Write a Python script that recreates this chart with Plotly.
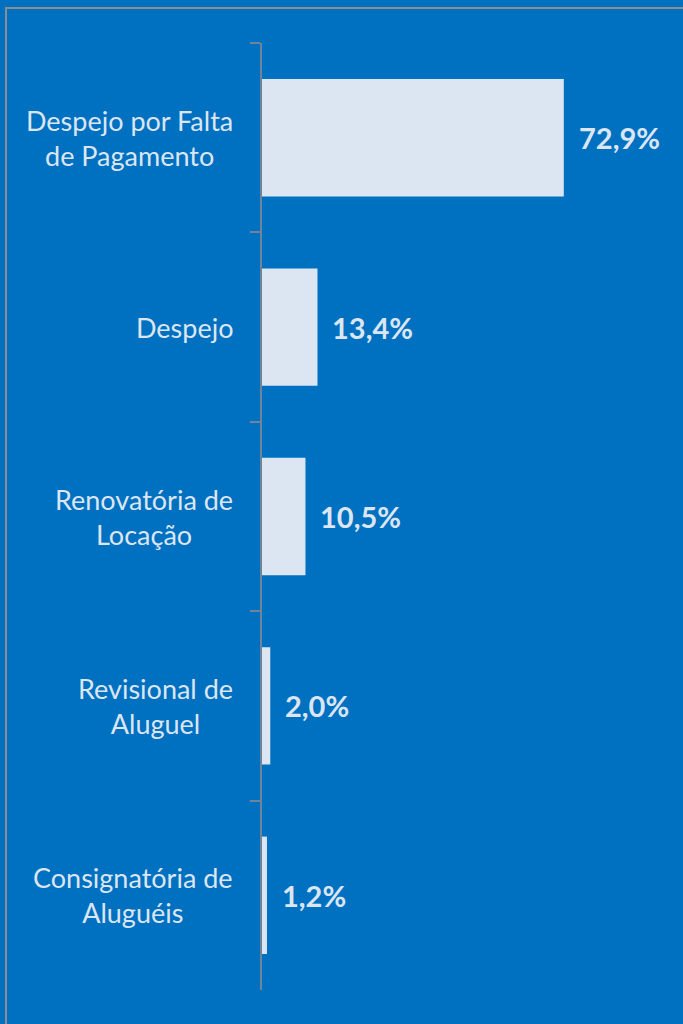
import plotly.graph_objects as go

categories = [
    "Despejo por Falta<br>de Pagamento",
    "Despejo",
    "Renovatória de<br>Locação",
    "Revisional de<br>Aluguel",
    "Consignatória de<br>Aluguéis",
]
values = [72.9, 13.4, 10.5, 2.0, 1.2]
value_labels = ["72,9%", "13,4%", "10,5%", "2,0%", "1,2%"]

BG = "#0070C0"
BAR = "#DCE6F2"
TXT = "#DCE6F2"
AXIS = "#6F8399"

fig = go.Figure()
fig.add_trace(go.Bar(
    x=values, y=categories, orientation="h",
    marker=dict(color=BAR, line=dict(width=0)),
    hoverinfo="skip",
))

for v, c, t in zip(values, categories, value_labels):
    fig.add_annotation(x=v, y=c, text=t, showarrow=False, xanchor="left",
                       xshift=13, font=dict(family="Lato", size=29, color=TXT, weight="bold"))

# category labels: right-aligned block, centered lines
for c in categories:
    fig.add_annotation(x=0, xref="paper", y=c, yref="y", text=c, showarrow=False,
                       xanchor="right", align="center", xshift=-27,
                       font=dict(family="Lato", size=27, color=TXT))

fig.add_shape(type="rect", xref="paper", yref="paper",
              x0=(6 - 262) / 414, x1=1.2, y0=(990 - 8) / 947, y1=-0.2,
              line=dict(color="#8C8C8C", width=2), fillcolor="rgba(0,0,0,0)", layer="below")

fig.update_layout(
    width=683, height=1024,
    margin=dict(l=262, r=7, t=43, b=34),
    paper_bgcolor=BG, plot_bgcolor=BG,
    bargap=0.38,
    showlegend=False,
    font=dict(family="Lato", color=TXT),
    xaxis=dict(visible=False, range=[0, 100], fixedrange=True),
    yaxis=dict(
        autorange="reversed",
        showline=True, linecolor=AXIS, linewidth=2,
        ticks="outside", tickson="boundaries", ticklen=10, tickwidth=2, tickcolor=AXIS,
        showticklabels=False,
        showgrid=False, zeroline=False,
    ),
)

fig.write_html("out.html", config={"displayModeBar": False},
               post_script="document.body.style.margin='0';document.body.style.overflow='hidden';document.body.style.background='" + BG + "';")
